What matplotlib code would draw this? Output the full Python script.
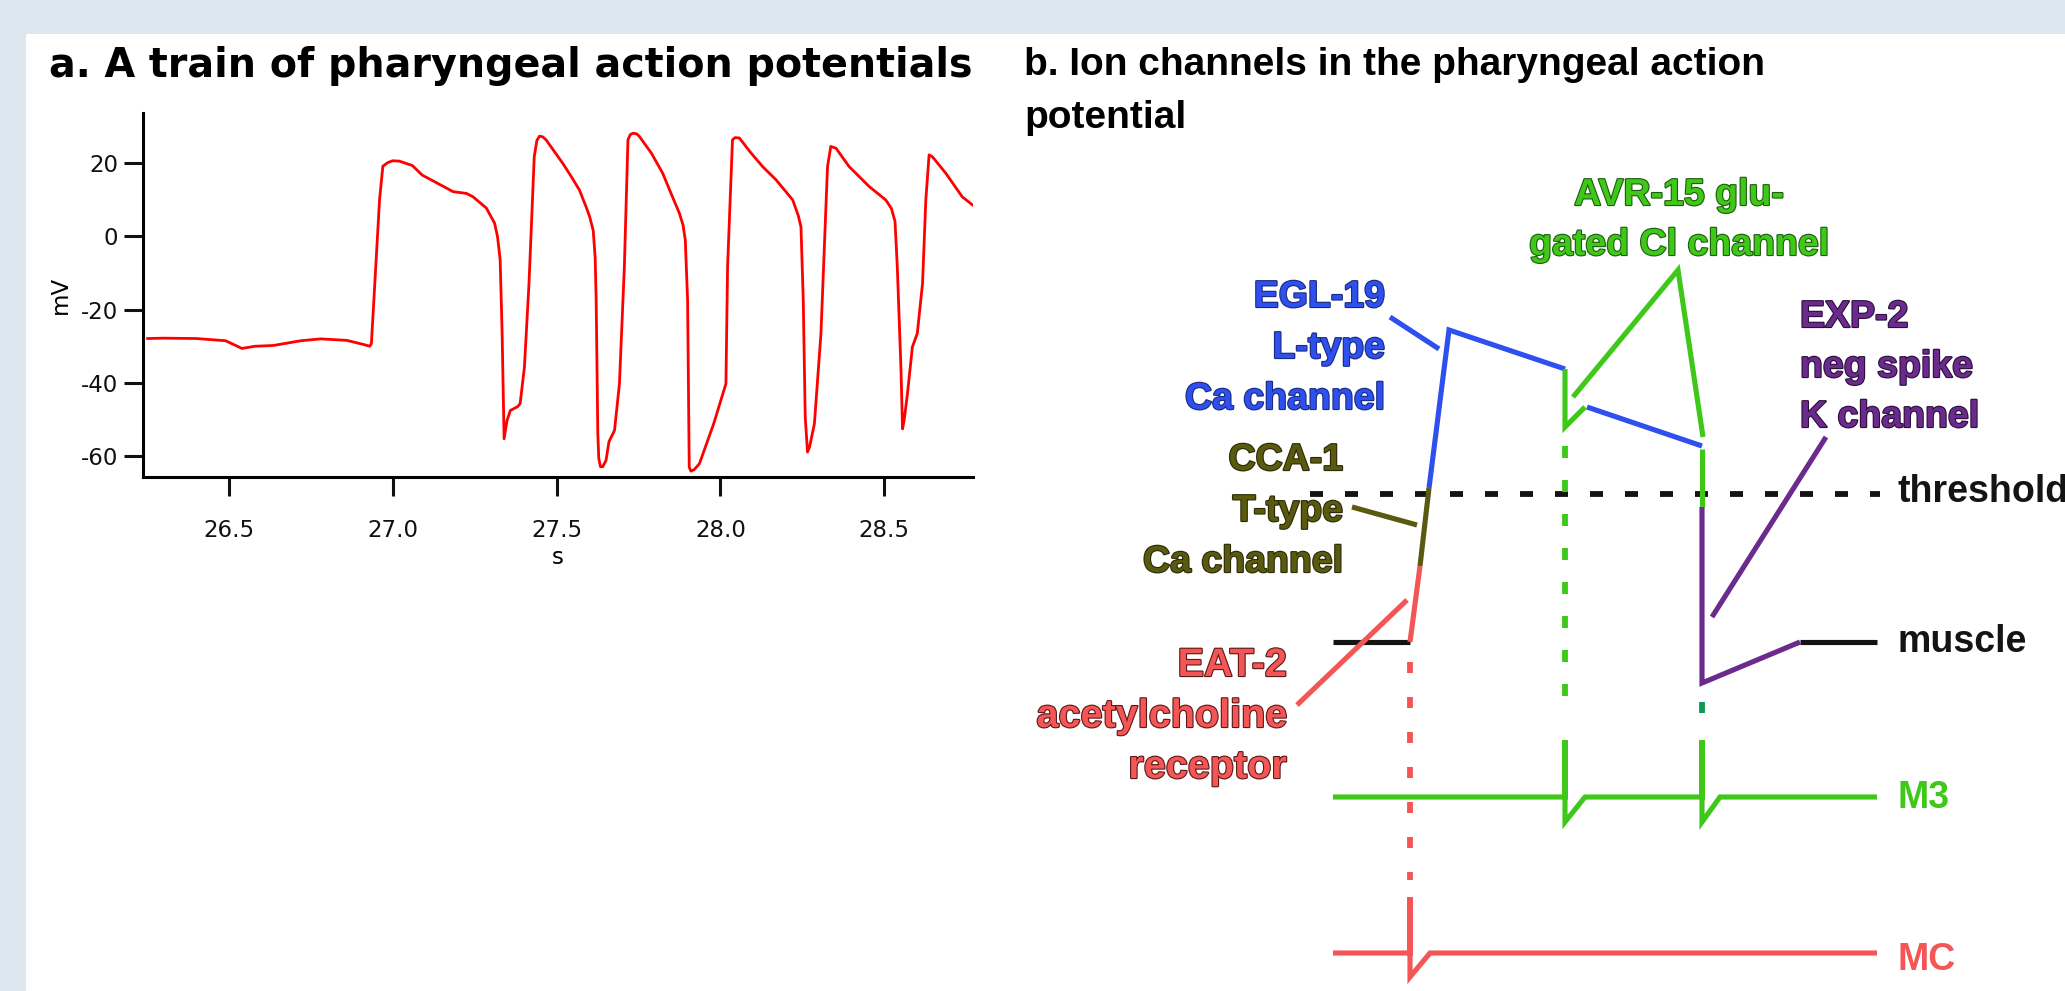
import matplotlib
matplotlib.use("Agg")
import matplotlib.pyplot as plt
import matplotlib.patheffects as pe
from matplotlib.patches import Rectangle

plt.rcParams['font.family'] = ['Liberation Sans', 'DejaVu Sans']
plt.rcParams['axes.unicode_minus'] = False

W, H = 2065, 991

# ---- panel a: recorded train of action potentials (s, mV)
t = [26.252, 26.30, 26.40, 26.49, 26.54, 26.58, 26.635, 26.72, 26.78, 26.86,
     26.91, 26.93, 26.935, 26.96, 26.97, 26.985, 27.0, 27.02, 27.06, 27.09,
     27.134, 27.184, 27.225, 27.245, 27.286, 27.311, 27.32, 27.328, 27.334, 27.34,
     27.349, 27.359, 27.382, 27.389, 27.402, 27.416, 27.432, 27.440, 27.448, 27.458,
     27.468, 27.519, 27.545, 27.570, 27.590, 27.601, 27.612, 27.618, 27.621, 27.626,
     27.629, 27.634, 27.641, 27.651, 27.660, 27.677, 27.692, 27.707, 27.718, 27.725,
     27.733, 27.745, 27.753, 27.790, 27.824, 27.850, 27.875, 27.886, 27.893, 27.900,
     27.905, 27.910, 27.920, 27.936, 27.980, 28.017, 28.022, 28.037, 28.045, 28.058,
     28.090, 28.129, 28.170, 28.221, 28.238, 28.246, 28.253, 28.259, 28.266, 28.272,
     28.287, 28.307, 28.327, 28.337, 28.353, 28.393, 28.454, 28.505, 28.522, 28.533,
     28.540, 28.551, 28.556, 28.561, 28.571, 28.586, 28.601, 28.617, 28.627, 28.637,
     28.647, 28.688, 28.738, 28.769]
mv = [-27.9, -27.8, -27.9, -28.5, -30.6, -30.0, -29.8, -28.5, -28.0, -28.4,
      -29.5, -30.0, -29.3, 10.0, 19.0, 20.0, 20.5, 20.4, 19.2, 16.6,
      14.5, 12.1, 11.6, 10.7, 7.6, 3.5, -0.2, -6.5, -26.5, -55.2,
      -50.2, -47.5, -46.4, -45.6, -35.7, -12.9, 21.6, 26.0, 27.2, 27.0,
      26.2, 19.8, 16.2, 12.5, 8.0, 5.3, 1.5, -6.0, -17.5, -53.8,
      -60.5, -62.8, -62.8, -61.1, -56.0, -52.9, -40.2, -8.4, 26.2, 27.6,
      28.0, 27.8, 27.1, 22.5, 17.1, 11.5, 6.2, 3.0, -1.1, -17.5,
      -62.9, -64.0, -63.6, -62.0, -51.0, -40.2, -8.4, 26.2, 26.8, 26.7,
      23.0, 18.9, 15.3, 9.8, 5.5, 2.5, -17.5, -49.3, -58.8, -57.5,
      -51.1, -26.5, 18.9, 24.4, 23.9, 18.9, 13.5, 9.8, 7.5, 4.0,
      -8.4, -35.7, -52.5, -50.0, -42.9, -30.2, -26.5, -12.9, 9.8, 22.1,
      21.6, 17.1, 10.7, 8.5]
xticks = [26.5, 27.0, 27.5, 28.0, 28.5]
xticklabels = ['26.5', '27.0', '27.5', '28.0', '28.5']
yticks = [20, 0, -20, -40, -60]

# ---- panel b: schematic, in figure pixel units (x right, y down)
rest_left = ([1333, 1410], [642, 642])
rest_right = ([1800, 1877], [642, 642])
eat2_rise = ([1410, 1420], [642, 566])
cca1_rise = ([1420, 1429], [566, 488])
egl19_wave = ([1429, 1449, 1565], [488, 330, 369])
egl19_wave2 = ([1587, 1702], [407, 446])
avr15_kink = ([1565, 1565, 1585], [369, 427, 407])
avr15_wave = ([1573, 1678, 1703], [397, 270, 437])
avr15_drop = ([1702, 1702], [449, 507])
exp2_wave = ([1702, 1702, 1800], [507, 683, 642])
threshold = ([1310, 1880], [494, 494])

egl19_ptr = ([1390, 1439], [317, 349])
cca1_ptr = ([1352, 1417], [507, 525])
eat2_ptr = ([1297, 1407], [705, 600])
exp2_ptr = ([1712, 1826], [617, 437])

mc_dash = ([1410, 1410], [662, 880])
mc_trace = ([1333, 1410, 1410, 1410, 1430, 1877], [953, 953, 897, 977, 953, 953])
m3_dash1 = ([1565, 1565], [446, 705])
m3_dash2 = ([1702, 1702], [702, 713])
m3_trace = ([1333, 1565, 1565, 1565, 1585, 1702, 1702, 1702, 1720, 1877],
            [797, 797, 740, 822, 797, 797, 740, 822, 797, 797])

RED = '#f45656'
GREEN = '#3fc81a'
BLUE = '#2e50ee'
OLIVE = '#5a5910'
PURPLE = '#6a2b8c'
BLACK = '#141414'

fig = plt.figure(figsize=(W / 100, H / 100), dpi=100)
fig.patch.set_facecolor('#dde7f0')
fig.add_artist(Rectangle((26 / W, 0), 1, 1 - 34 / H, transform=fig.transFigure,
                         facecolor='white', edgecolor='none', zorder=-5))

# panel a
ax = fig.add_axes([143 / W, 1 - 477 / H, 830 / W, 364 / H])
ax.set_facecolor('none')
ax.plot(t, mv, color='#ff0000', lw=2)
ax.set_xlim(26.238, 28.771)
ax.set_ylim(-65.6, 33.5)
for s in ['top', 'right']:
    ax.spines[s].set_visible(False)
for s in ['left', 'bottom']:
    ax.spines[s].set_linewidth(2.2)
ax.set_xticks(xticks)
ax.set_xticklabels(xticklabels)
ax.set_yticks(yticks)
ax.tick_params(axis='both', length=14, width=2.2, colors='#111111')
ax.tick_params(axis='y', pad=4)
ax.tick_params(axis='x', pad=16)
for lab in ax.get_xticklabels() + ax.get_yticklabels():
    lab.set_fontfamily('DejaVu Sans')
    lab.set_fontsize(16.5)
ax.set_xlabel('s', fontsize=16.5, labelpad=3, family='DejaVu Sans')
ax.set_ylabel('mV', fontsize=16.5, labelpad=6, family='DejaVu Sans')

# panel b
axb = fig.add_axes([0, 0, 1, 1])
axb.set_xlim(0, W)
axb.set_ylim(H, 0)
axb.axis('off')


def seg(xy, color, lw=3.7, **kw):
    axb.plot(xy[0], xy[1], color=color, lw=lw, solid_capstyle='butt',
             solid_joinstyle='miter', dash_capstyle='butt', **kw)


def label(lines, x, y0, color, edge, ha, step=51, size=27):
    for i, s in enumerate(lines):
        axb.text(x, y0 + i * step, s, color=color, ha=ha, va='baseline',
                 fontsize=size, fontweight='bold',
                 path_effects=[pe.withStroke(linewidth=1.6, foreground=edge)])


lw_dash = 4.2
seg(threshold, BLACK, lw=lw_dash, linestyle=(0, (13 * 0.72 / lw_dash, 22 * 0.72 / lw_dash)))
seg(mc_dash, RED, lw=lw_dash, linestyle=(0, (11 * 0.72 / lw_dash, 24 * 0.72 / lw_dash)))
seg(m3_dash1, GREEN, lw=lw_dash, linestyle=(0, (12 * 0.72 / lw_dash, 22 * 0.72 / lw_dash)))
seg(m3_dash2, '#0e9a55', lw=lw_dash)

seg(rest_left, BLACK)
seg(rest_right, BLACK)
seg(eat2_rise, RED)
seg(cca1_rise, OLIVE)
seg(egl19_wave, BLUE)
seg(egl19_wave2, BLUE)
seg(avr15_kink, GREEN)
seg(avr15_wave, GREEN)
seg(avr15_drop, GREEN)
seg(exp2_wave, PURPLE)
seg(egl19_ptr, BLUE)
seg(cca1_ptr, OLIVE)
seg(eat2_ptr, RED)
seg(exp2_ptr, PURPLE)
seg(mc_trace, RED)
seg(m3_trace, GREEN)

# titles
axb.text(49, 77, 'a. A train of pharyngeal action potentials', fontsize=28.5,
         fontweight='bold', va='baseline', ha='left', color='black',
         family='DejaVu Sans')
axb.text(1024, 75, 'b. Ion channels in the pharyngeal action', fontsize=28,
         fontweight='bold', va='baseline', ha='left', color='black')
axb.text(1024, 128, 'potential', fontsize=28,
         fontweight='bold', va='baseline', ha='left', color='black')

label(['EGL-19', 'L-type', 'Ca channel'], 1385, 307, BLUE, '#1a2a80', 'right')
label(['CCA-1', 'T-type', 'Ca channel'], 1343, 470, OLIVE, '#2a2a05', 'right')
label(['EAT-2', 'acetylcholine', 'receptor'], 1287, 676, RED, '#5a1818', 'right', size=28.5)
label(['AVR-15 glu-', 'gated Cl channel'], 1679, 205, GREEN, '#1d5c0c', 'center', step=50)
label(['EXP-2', 'neg spike', 'K channel'], 1800, 327, PURPLE, '#2a0f3a', 'left', step=50)

for txt, y, c in [('threshold', 502, BLACK), ('muscle', 652, BLACK),
                  ('M3', 808, GREEN), ('MC', 970, RED)]:
    axb.text(1897, y, txt, fontsize=27, fontweight='bold', color=c,
             va='baseline', ha='left')

fig.savefig('out.png', dpi=100, facecolor=fig.get_facecolor())
